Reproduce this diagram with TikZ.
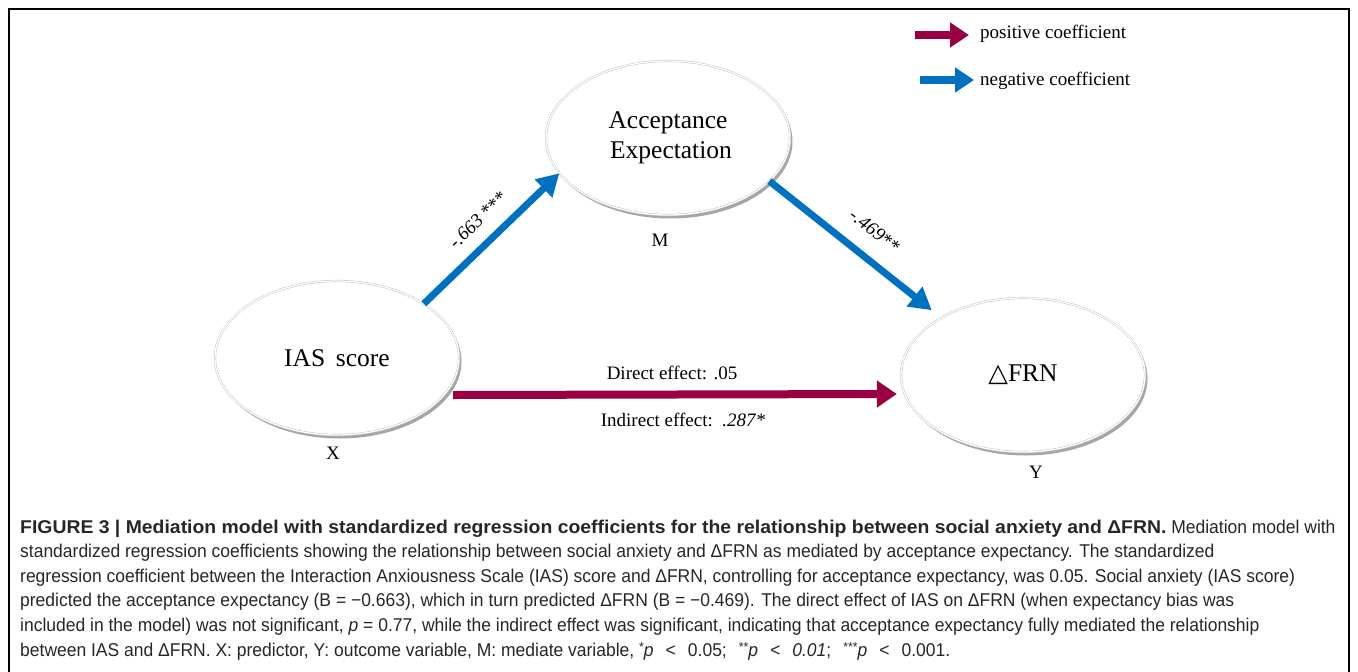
\documentclass[tikz,border=0pt]{standalone}
\usepackage{fontspec}
\setmainfont{Liberation Serif}
\newfontfamily\capfont[FakeStretch=0.945]{Liberation Sans}
\newfontfamily\capboldfont[FakeStretch=1.048]{Liberation Sans}
\newfontfamily\symfont{DejaVu Serif}
\usetikzlibrary{arrows.meta,shadows,shapes.geometric}
\definecolor{posc}{RGB}{153,0,68}
\definecolor{negc}{RGB}{0,112,192}
\newcommand{\lsp}{\hspace{0.65em}}
\newcommand{\stars}[1]{\raisebox{0.45ex}{\fontsize{13}{13}\selectfont #1}}
\begin{document}
\begin{tikzpicture}[x=1pt,y=-1pt,
  var/.style={ellipse, draw=gray!55, double=white, double distance=1.3pt, fill=white,
    minimum width=244pt, minimum height=154pt, inner sep=0pt, align=center,
    drop shadow={shadow xshift=2.5pt, shadow yshift=-3.5pt, opacity=0.35, fill=black},
    font=\fontsize{25.5}{30}\selectfont},
  lab/.style={font=\fontsize{19}{22}\selectfont, inner sep=1pt},
  negarrow/.style={draw=negc, line width=7pt, -{Triangle[length=22pt,width=24pt]}},
  posarrow/.style={draw=posc, line width=8pt, -{Triangle[length=20pt,width=26pt]}},
  capline/.style={anchor=base west, inner sep=0pt, text=black!85, font=\capfont\fontsize{18.5}{22}\selectfont}
]
\useasboundingbox (0,0) rectangle (1358,672);
\draw[line width=2.5pt] (9,672) -- (9,9) -- (1349,9) -- (1349,672);

% legend
\coordinate (lp1) at (915,35);
\coordinate (lp2) at (969,35);
\coordinate (ln1) at (920,80);
\coordinate (ln2) at (974,80);
\draw[draw=posc, line width=7.5pt, -{Triangle[length=19pt,width=24pt]}] (lp1) -- (lp2);
\draw[draw=negc, line width=7.5pt, -{Triangle[length=19pt,width=24pt]}] (ln1) -- (ln2);
\node[lab, anchor=west] (lpt) at (979,34) {positive coefficient};
\node[lab, anchor=west] (lnt) at (979,81) {negative coefficient};

% variables
\node[var] (M) at (668,138) {\raisebox{-3pt}{Acceptance}\\\raisebox{-3pt}{\hspace*{6pt}Expectation}};
\node[var] (X) at (337,358) {\raisebox{-2pt}{IAS\, score}};
\node[var] (Y) at (1023,375) {{\symfont △}FRN};
\node[lab] (Ml) at (660,240) {M};
\node[lab] (Xl) at (333,453) {X};
\node[lab] (Yl) at (1036,472) {Y};

% arrows
\draw[negarrow] (X.32) -- (M.198);
\draw[negarrow, shorten >=12pt] (M.337) -- (Y.145);
\draw[posarrow] ([xshift=-6pt,yshift=-37pt]X.east) -- ([xshift=-4pt,yshift=-19pt]Y.west);

\node[lab, rotate=43.7] (l1) at (478,220) {\textit{-.663} ***};
\node[lab, rotate=-38.4] (l2) at (875,231) {\textit{-.469}**};
\node[lab] (l3) at (672,373) {Direct effect: .05};
\node[lab] (l4) at (683,420) {Indirect effect:\ \ \textit{.287*}};

% caption
\node[capline] (c1) at (20,533) {{\capboldfont\bfseries FIGURE 3 | Mediation model with standardized regression coefficients for the relationship between social anxiety and ΔFRN.} Mediation model with};
\node[capline] (c2) at (20,557.6) {standardized regression coefficients showing the relationship between social anxiety and ΔFRN as mediated by acceptance expectancy. The standardized};
\node[capline] (c3) at (20,582.2) {regression coefficient between the Interaction Anxiousness Scale (IAS) score and ΔFRN, controlling for acceptance expectancy, was 0.05. Social anxiety (IAS score)};
\node[capline] (c4) at (20,606.8) {predicted the acceptance expectancy (B = −0.663), which in turn predicted ΔFRN (B = −0.469). The direct effect of IAS on ΔFRN (when expectancy bias was};
\node[capline] (c5) at (20,631.4) {included in the model) was not significant, \textit{p} = 0.77, while the indirect effect was significant, indicating that acceptance expectancy fully mediated the relationship};
\node[capline] (c6) at (20,656) {between IAS and ΔFRN. X: predictor, Y: outcome variable, M: mediate variable, \stars{*}\textit{p}\lsp<\lsp0.05;\lsp\stars{**}\textit{p\lsp<\lsp0.01};\lsp\stars{***}\textit{p}\lsp<\lsp0.001.};
\end{tikzpicture}
\end{document}
